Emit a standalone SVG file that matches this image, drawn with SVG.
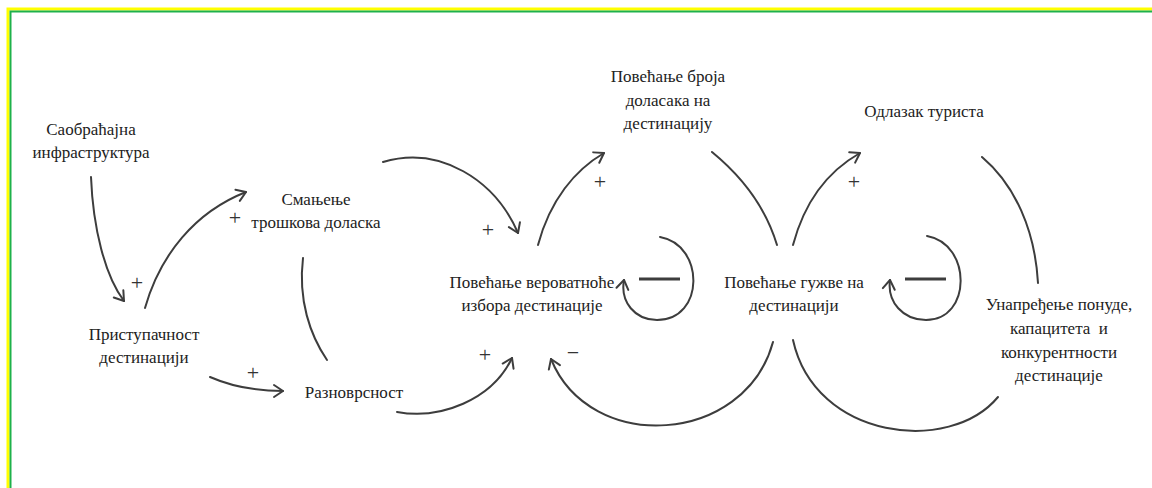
<svg xmlns="http://www.w3.org/2000/svg" width="1152" height="488" viewBox="0 0 1152 488">
  <style>
    .lbl { font-family: "Liberation Serif", "Times New Roman", serif; font-size: 17px; fill: #222; text-anchor: middle; }
    .sign { font-family: "Liberation Serif", "Times New Roman", serif; font-size: 22px; fill: #333; text-anchor: middle; }
    .link { fill: none; stroke: #3d3d3d; stroke-width: 2; stroke-linecap: round; }
    .arrow { marker-end: url(#chev); }
    .bar { stroke: #3d3d3d; stroke-width: 3; }
  </style>
  <defs>
    <marker id="chev" viewBox="-12 -8 14 16" refX="0" refY="0" markerWidth="14" markerHeight="16" markerUnits="userSpaceOnUse" orient="auto">
      <path d="M-9,-6 L0,0 L-9,6" fill="none" stroke="#3d3d3d" stroke-width="2" stroke-linecap="round" stroke-linejoin="round"/>
    </marker>
  </defs>

  <rect width="1152" height="488" fill="#ffffff"/>
  <!-- frame: yellow outer line, green inner line (top and left edges) -->
  <path d="M8,488 V9 H1152" fill="none" stroke="#ffff00" stroke-width="3"/>
  <path d="M10.5,488 V11.5 H1152" fill="none" stroke="#1eb14b" stroke-width="2"/>

  <g id="connectors">
    <path class="link arrow" d="M91,177 C93,228 105,276 124,301"/>
    <path class="link arrow" d="M145,308 C160,255 195,212 246,192"/>
    <path class="link" d="M303,258 C298,300 310,335 327,360"/>
    <path class="link arrow" d="M210,377 Q242,391 283,391"/>
    <path class="link arrow" d="M383,162 C440,145 495,180 518,233"/>
    <path class="link arrow" d="M397,412 C440,420 492,400 512,358"/>
    <path class="link arrow" d="M538,245 C550,200 575,170 604,153"/>
    <path class="link" d="M712,152 C740,175 765,205 777,245"/>
    <path class="link arrow" d="M793,245 C805,200 830,170 860,153"/>
    <path class="link" d="M982,157 C1015,185 1035,230 1038,283"/>
    <path class="link arrow" d="M773,342 C745,445 590,455 551,359"/>
    <path class="link" d="M793,340 C815,440 950,455 998,397"/>
    <!-- balancing self-loops -->
    <path class="link arrow" d="M660,237 C705,245 705,320 657,320 C635,320 620,302 624,280"/>
    <line class="bar" x1="639" y1="279" x2="680" y2="279"/>
    <path class="link arrow" d="M927,236 C972,244 972,320 926,320 C903,320 887,302 890,280"/>
    <line class="bar" x1="905" y1="279" x2="946" y2="279"/>
    <!-- polarity signs -->
    <text class="sign" x="137" y="290">+</text>
    <text class="sign" x="235" y="225">+</text>
    <text class="sign" x="253" y="380">+</text>
    <text class="sign" x="488" y="237">+</text>
    <text class="sign" x="485" y="362">+</text>
    <text class="sign" x="600" y="189">+</text>
    <text class="sign" x="854" y="189">+</text>
    <text class="sign" x="573" y="360">−</text>
  </g>

  <g id="node-infrastructure">
    <text class="lbl" x="91" y="135">Саобраћајна</text>
    <text class="lbl" x="91" y="158">инфраструктура</text>
  </g>
  <g id="node-cost">
    <text class="lbl" x="316" y="205">Смањење</text>
    <text class="lbl" x="316" y="228">трошкова доласка</text>
  </g>
  <g id="node-accessibility">
    <text class="lbl" x="144" y="340">Приступачност</text>
    <text class="lbl" x="144" y="363">дестинацији</text>
  </g>
  <g id="node-diversity">
    <text class="lbl" x="354" y="398">Разноврсност</text>
  </g>
  <g id="node-arrivals">
    <text class="lbl" x="668" y="82">Повећање броја</text>
    <text class="lbl" x="668" y="106">доласака на</text>
    <text class="lbl" x="668" y="129">дестинацију</text>
  </g>
  <g id="node-choice">
    <text class="lbl" x="532" y="288">Повећање вероватноће</text>
    <text class="lbl" x="532" y="311">избора дестинације</text>
  </g>
  <g id="node-crowding">
    <text class="lbl" x="794" y="288">Повећање гужве на</text>
    <text class="lbl" x="794" y="311">дестинацији</text>
  </g>
  <g id="node-departure">
    <text class="lbl" x="924" y="117">Одлазак туриста</text>
  </g>
  <g id="node-improvement">
    <text class="lbl" x="1059" y="310">Унапређење понуде,</text>
    <text class="lbl" x="1059" y="334" xml:space="preserve">капацитета  и</text>
    <text class="lbl" x="1059" y="358">конкурентности</text>
    <text class="lbl" x="1059" y="381">дестинације</text>
  </g>
</svg>
